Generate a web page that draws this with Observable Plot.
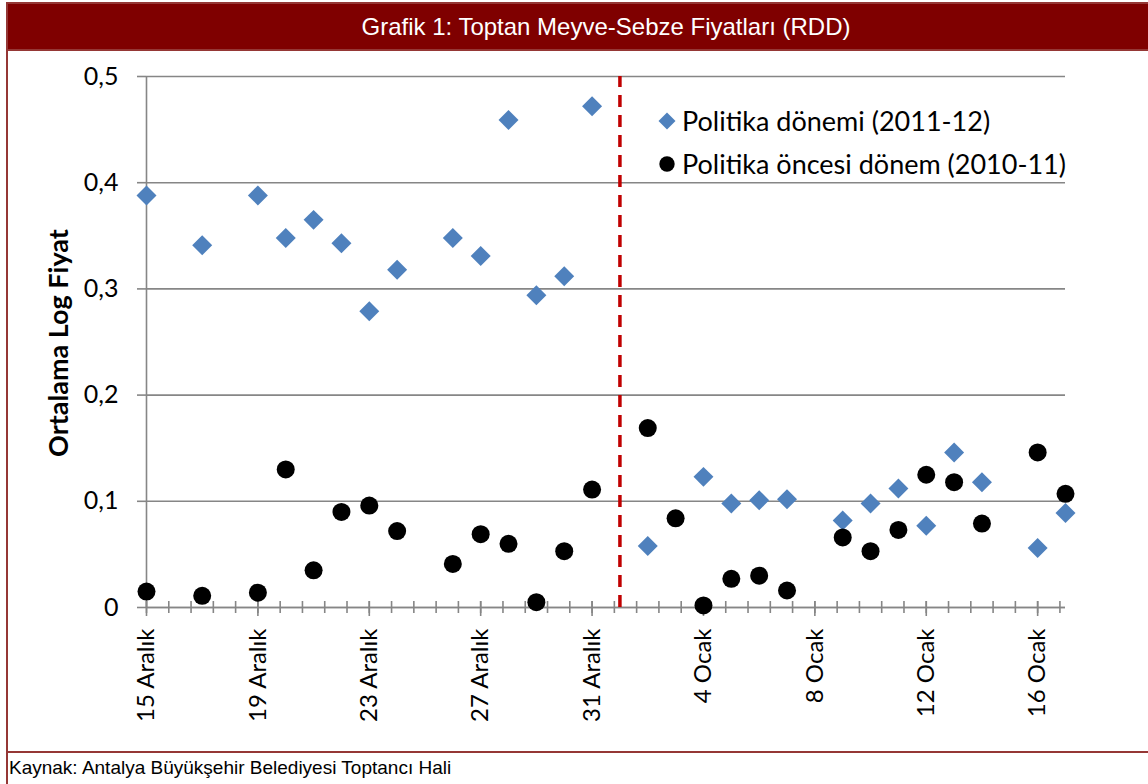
<!DOCTYPE html>
<html><head><meta charset="utf-8">
<script src="https://cdn.jsdelivr.net/npm/d3@7"></script>
<script src="https://cdn.jsdelivr.net/npm/@observablehq/plot@0.6"></script>
<style>
html,body{margin:0;padding:0;background:#fff;width:1148px;height:784px;overflow:hidden;position:relative;}
#frame{position:absolute;left:6px;top:2px;width:1300px;height:800px;border-left:2px solid #953735;}
#title{position:absolute;left:6px;top:2px;width:1196px;height:45px;background:#7f0000;border:2px solid #953735;color:#fff;font:24px "Liberation Sans",Arial,sans-serif;text-align:center;line-height:45px;}
#chart{position:absolute;left:0;top:47px;}
#sep{position:absolute;left:6px;top:751px;width:1300px;border-top:2px solid #953735;}
#caption{position:absolute;left:9px;top:757px;font:19px "Liberation Sans",Arial,sans-serif;color:#000;}
#ytitle{position:absolute;left:57px;top:343px;transform:translate(-50%,-50%) rotate(-90deg);white-space:nowrap;font:bold 27px Lato,sans-serif;color:#000;}
.leg{position:absolute;left:656px;font:27px Lato,sans-serif;color:#000;white-space:nowrap;display:flex;align-items:center;}
.leg svg{margin-right:4px;}
</style></head>
<body>
<div id="frame"></div>
<div id="title">Grafik 1: Toptan Meyve-Sebze Fiyatları (RDD)</div>
<div id="chart"></div>
<div id="ytitle">Ortalama Log Fiyat</div>
<div class="leg" id="leg1" style="top:104px"><svg width="22" height="22"><path d="M11,2.5L19.5,11L11,19.5L2.5,11Z" fill="#4F81BD"/></svg><span>Politika dönemi (2011-12)</span></div>
<div class="leg" id="leg2" style="top:147px"><svg width="22" height="22"><circle cx="11" cy="11" r="7.7" fill="#000"/></svg><span>Politika öncesi dönem (2010-11)</span></div>
<div id="sep"></div>
<div id="caption">Kaynak: Antalya Büyükşehir Belediyesi Toptancı Hali</div>
<script>
// Politika dönemi (2011-12)
const politikaGunleri = ["2011-12-15","2011-12-17","2011-12-19","2011-12-20","2011-12-21","2011-12-22","2011-12-23","2011-12-24","2011-12-26","2011-12-27","2011-12-28","2011-12-29","2011-12-30","2011-12-31","2012-01-02","2012-01-04","2012-01-05","2012-01-06","2012-01-07","2012-01-09","2012-01-10","2012-01-11","2012-01-12","2012-01-13","2012-01-14","2012-01-16","2012-01-17"];
const politikaDegerleri = [0.388,0.341,0.388,0.348,0.365,0.343,0.279,0.318,0.348,0.331,0.459,0.294,0.312,0.472,0.058,0.123,0.098,0.101,0.102,0.082,0.098,0.112,0.077,0.146,0.118,0.056,0.089];
// Politika öncesi dönem (2010-11)
const oncesiGunleri = ["2011-12-15","2011-12-17","2011-12-19","2011-12-20","2011-12-21","2011-12-22","2011-12-23","2011-12-24","2011-12-26","2011-12-27","2011-12-28","2011-12-29","2011-12-30","2011-12-31","2012-01-02","2012-01-03","2012-01-04","2012-01-05","2012-01-06","2012-01-07","2012-01-09","2012-01-10","2012-01-11","2012-01-12","2012-01-13","2012-01-14","2012-01-16","2012-01-17"];
const oncesiDegerleri = [0.015,0.011,0.014,0.130,0.035,0.090,0.096,0.072,0.041,0.069,0.060,0.005,0.053,0.111,0.169,0.084,0.002,0.027,0.030,0.016,0.066,0.053,0.073,0.125,0.118,0.079,0.146,0.107];
// eksen
const xAlani = ["2011-12-15","2012-01-17"];
const etiketGunleri = ["2011-12-15","2011-12-19","2011-12-23","2011-12-27","2011-12-31","2012-01-04","2012-01-08","2012-01-12","2012-01-16"];
const etiketler = ["15 Aralık","19 Aralık","23 Aralık","27 Aralık","31 Aralık","4 Ocak","8 Ocak","12 Ocak","16 Ocak"];
const yTikleri = [0,0.1,0.2,0.3,0.4,0.5];
const yEtiketleri = ["0","0,1","0,2","0,3","0,4","0,5"];
const politikaBaslangici = "2012-01-01";
const araTikAdimiGun = 0.8;

const parse = d3.utcParse("%Y-%m-%d");
const politika = politikaGunleri.map((g,i)=>({x:parse(g), y:politikaDegerleri[i]}));
const oncesi = oncesiGunleri.map((g,i)=>({x:parse(g), y:oncesiDegerleri[i]}));
const etiketTarihleri = etiketGunleri.map(parse);
const [x0, x1] = xAlani.map(parse);
const DAY = 864e5;
const araTikler = d3.range(0, (x1 - x0)/DAY, araTikAdimiGun).map(k => new Date(+x0 + Math.round(k*10)/10*DAY));
const pxY = 0.5/531.5;

const grid = "#868686";
const chart = Plot.plot({
  width: 1148, height: 705,
  marginLeft: 146, marginRight: 83, marginTop: 29, marginBottom: 145,
  style: {fontFamily: "Lato, sans-serif", fontSize: "24px", color: "#000", background: "transparent"},
  x: {type: "utc", domain: [x0, x1]},
  y: {domain: [0, 0.5]},
  marks: [
    Plot.gridY(yTikleri, {stroke: grid, strokeOpacity: 1, strokeWidth: 1.6}),
    Plot.axisY(yTikleri, {tickSize: 9, tickPadding: 19, stroke: grid, strokeWidth: 1.6, tickFormat: d => yEtiketleri[yTikleri.indexOf(d)], label: null, fontSize: 25}),
    Plot.ruleX([x0], {y1: 0, y2: 0.5, stroke: grid, strokeWidth: 1.6}),
    Plot.ruleY([0], {stroke: grid, strokeWidth: 1.6}),
    Plot.ruleX(araTikler, {y1: -6*pxY, y2: 6*pxY, stroke: grid, strokeWidth: 1.6}),
    Plot.ruleX(etiketTarihleri, {y1: -9*pxY, y2: 6*pxY, stroke: grid, strokeWidth: 1.6}),
    Plot.axisX(etiketTarihleri, {tickSize: 0, tickPadding: 21, tickRotate: -90, tickFormat: d => etiketler[etiketTarihleri.findIndex(t => +t === +d)], label: null, fontSize: 24}),
    Plot.ruleX([parse(politikaBaslangici)], {y1: 0, y2: 0.5, stroke: "#C00000", strokeWidth: 3.5, strokeDasharray: "12,8"}),
    Plot.dot(politika, {x: "x", y: "y", symbol: "diamond2", r: 9, fill: "#4F81BD", stroke: null}),
    Plot.dot(oncesi, {x: "x", y: "y", r: 9, fill: "#000", stroke: null})
  ]
});
document.getElementById("chart").appendChild(chart);
</script>
</body></html>
